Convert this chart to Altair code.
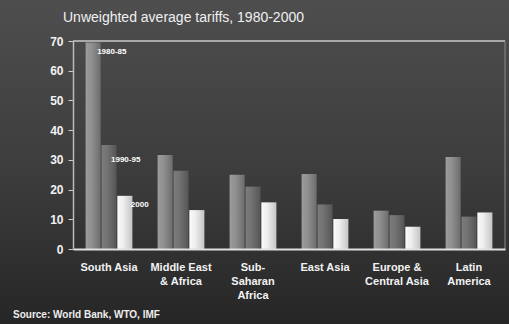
import altair as alt
import pandas as pd

# Regions (axis labels break on "|")
regions = [
    "South Asia",
    "Middle East|& Africa",
    "Sub-|Saharan|Africa",
    "East Asia",
    "Europe &|Central Asia",
    "Latin|America",
]
periods = ["1980-85", "1990-95", "2000"]

# Unweighted average tariff (%) by period
tariff_1980_85 = [69.5, 31.6, 25.0, 25.2, 12.9, 31.0]
tariff_1990_95 = [35.0, 26.3, 21.0, 15.0, 11.4, 10.9]
tariff_2000 = [17.9, 13.1, 15.7, 10.1, 7.5, 12.3]
y_ticks = [0, 10, 20, 30, 40, 50, 60, 70]

rows = []
for p, vals in zip(periods, [tariff_1980_85, tariff_1990_95, tariff_2000]):
    for r, v in zip(regions, vals):
        rows.append({"region": r, "period": p, "tariff": v})
df = pd.DataFrame(rows)

W, H = 432, 208
PAD = {"left": 73, "top": 41, "right": 4, "bottom": 75}
FONT = "Liberation Sans"

x_enc = alt.X(
    "region:N",
    sort=regions,
    scale=alt.Scale(paddingInner=0.35, paddingOuter=0.175),
    axis=alt.Axis(
        title=None, labelAngle=0, ticks=False, labelPadding=12,
        labelExpr="split(datum.label, '|')", labelLineHeight=14,
        labelFontSize=11, labelFontWeight="bold", labelColor="#f2f2f2",
        labelFont=FONT, domainColor="#e0e0e0", domainWidth=2, zindex=1,
    ),
)
y_axis = alt.Axis(
    title=None, values=y_ticks, grid=False,
    labelOverlap=False, tickSize=5, tickColor="#cccccc", labelPadding=5,
    labelFontSize=12, labelFontWeight="bold", labelColor="#f2f2f2",
    labelFont=FONT, domainColor="#bbbbbb", domainWidth=1.5, zindex=1,
)
y_scale = alt.Scale(domain=[0, 70], nice=False)
y_enc = alt.Y("tariff:Q", scale=y_scale, axis=y_axis)
xo_enc = alt.XOffset("period:N", sort=periods,
                     scale=alt.Scale(domain=periods, paddingInner=0.05))


def hgrad(c0, c1, c2):
    return alt.Gradient(
        gradient="linear", x1=0, x2=1, y1=0, y2=0,
        stops=[alt.GradientStop(color=c0, offset=0),
               alt.GradientStop(color=c1, offset=0.4),
               alt.GradientStop(color=c2, offset=1)],
    )


bar_fills = {
    "1980-85": hgrad("#9c9c9c", "#909090", "#6c6c6c"),
    "1990-95": hgrad("#7c7c7c", "#727272", "#555555"),
    "2000": hgrad("#fafafa", "#eeeeee", "#c4c4c4"),
}

# Backdrop covering the whole canvas, darker towards the bottom
backdrop = alt.Chart(alt.Data(values=[{}])).mark_rect(
    color=alt.Gradient(
        gradient="linear", x1=0, x2=0, y1=0, y2=1,
        stops=[alt.GradientStop(color="#4e4e4e", offset=0),
               alt.GradientStop(color="#3c3c3c", offset=0.55),
               alt.GradientStop(color="#262626", offset=1)],
    )
).encode(
    x=alt.value(-PAD["left"]), x2=alt.value(W + PAD["right"]),
    y=alt.value(-PAD["top"]), y2=alt.value(H + PAD["bottom"]),
)

layers = [backdrop]
for p in periods:
    layers.append(
        alt.Chart(df).transform_filter(alt.datum.period == p)
        .mark_bar(color=bar_fills[p])
        .encode(x=x_enc, xOffset=xo_enc, y=y_enc)
    )

# Plot frame: top line at 70 and right edge
top_rule = alt.Chart(alt.Data(values=[{}])).mark_rule(
    color="#c8c8c8", strokeWidth=1.5
).encode(y=alt.YDatum(70, scale=y_scale, axis=y_axis))
right_rule = alt.Chart(alt.Data(values=[{}])).mark_rule(
    color="#8a8a8a", strokeWidth=1
).encode(x=alt.value(W), y=alt.value(0), y2=alt.value(H))
layers += [top_rule, right_rule]

# Period labels beside the South Asia bars
label_style = {"1980-85": (4, 10), "1990-95": (2, 15), "2000": (6, 9)}
sa = df[df.region == regions[0]]
for p in periods:
    dx, dy = label_style[p]
    layers.append(
        alt.Chart(sa).transform_filter(alt.datum.period == p)
        .mark_text(align="left", baseline="middle", dx=dx, dy=dy,
                   fontSize=8, fontWeight="bold", color="#ffffff", font=FONT)
        .encode(x=x_enc, xOffset=xo_enc, y=y_enc, text="period:N")
    )

# Title and source line
title = alt.Chart(alt.Data(values=[{"t": "Unweighted average tariffs, 1980-2000"}])).mark_text(
    align="left", baseline="middle", fontSize=14, color="#f0f0f0", font=FONT,
).encode(x=alt.value(63 - PAD["left"]), y=alt.value(18 - PAD["top"]), text="t:N")

source = alt.Chart(alt.Data(values=[{"t": "Source: World Bank, WTO, IMF"}])).mark_text(
    align="left", baseline="middle", fontSize=10, fontWeight="bold",
    color="#eeeeee", font=FONT,
).encode(x=alt.value(13 - PAD["left"]), y=alt.value(315 - PAD["top"]), text="t:N")
layers += [title, source]

chart = alt.layer(*layers).properties(
    width=W, height=H,
    autosize=alt.AutoSizeParams(type="none"),
    padding=PAD,
).configure_view(stroke=None).configure(background="#333333")

chart.save("out.html", embed_options={"renderer": "svg", "actions": False})
